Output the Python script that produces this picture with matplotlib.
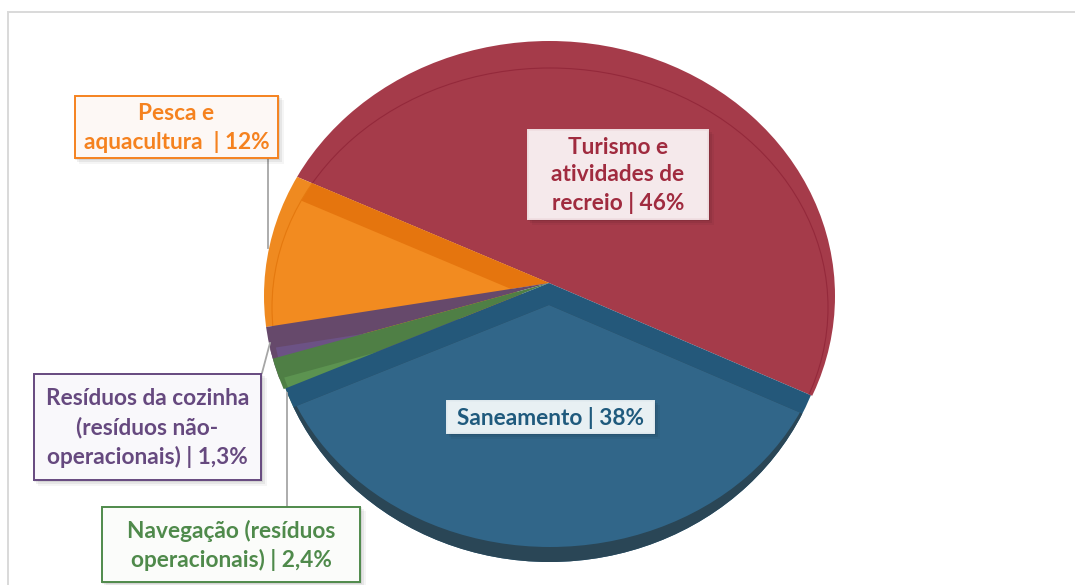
import matplotlib
matplotlib.use('Agg')
import matplotlib.pyplot as plt
from matplotlib.patches import Ellipse, Rectangle

W, H = 1075, 585

# slices counter-clockwise from the red/blue edge, sizes as drawn in the picture
names = ['Turismo', 'Pesca', 'Residuos', 'Navegacao', 'Saneamento']
slice_shares = [50.1, 8.8, 1.8, 1.8, 37.5]
start_angle = -23.2

face_colors = ['#a53b4a', '#f28b20', '#6c5285', '#5c9350', '#316689']
band_colors = ['#a53b4a', '#e5750e', '#66496b', '#4f7f45', '#24587a']
rim_colors = ['#a53b4a', '#ef8a20', '#66496b', '#4f7f45', '#2a4656']

labels = ['Turismo e\natividades de\nrecreio | 46%',
          'Pesca e\naquacultura  | 12%',
          'Resíduos da cozinha\n(resíduos não-\noperacionais) | 1,3%',
          'Navegação (resíduos\noperacionais) | 2,4%',
          'Saneamento | 38%']
# left, top, right, bottom of each box in pixels
boxes = [(528, 130, 708, 219), (75, 96, 278, 158), (34, 374, 261, 480),
         (102, 507, 360, 582), (447, 401, 654, 433)]
box_faces = ['#f5e9eb', '#fdf8f5', '#f9f8fb', '#fbfcfa', '#e8f0f3']
box_edges = ['#f0dfe2', '#f5821f', '#66497f', '#4f8a4b', '#e3ecf0']
text_colors = ['#a02b3f', '#f5821f', '#66497f', '#4f8a4b', '#1f5a7d']

leaders = [((268, 158), (268, 248)), ((262, 373), (270, 343)), ((287, 507), (287, 393))]


def py(y):
    return H - y


fig = plt.figure(figsize=(W / 100, H / 100), dpi=100)
ax = fig.add_axes([0, 0, 1, 1])

outer = Ellipse((549.5, py(296)), 571, 510, fc='none', ec='none')
inner = Ellipse((550, py(307.5)), 556, 479, fc='none', ec='none')
# the blue slice has a narrower, deeper outline than the rest
outer_blue = Ellipse((549.5, py(302)), 560, 520, fc='none', ec='none')
ax.add_patch(outer)
ax.add_patch(inner)
ax.add_patch(outer_blue)

apex = (549, py(283))
apex_low = (549, py(305))


def layer(center, colors, clip):
    wedges, _ = ax.pie(slice_shares, center=center, radius=800, startangle=start_angle,
                       colors=colors, wedgeprops={'linewidth': 0})
    for w in wedges:
        w.set_clip_path(clip)
        w.set_clip_on(True)
    return wedges


band = layer(apex, band_colors, outer)
rim = layer(apex_low, rim_colors, outer)
face = layer(apex_low, face_colors, inner)
band[4].set_clip_path(outer_blue)
rim[4].set_clip_path(outer_blue)
rim[3].set_clip_path(outer_blue)
# later slices sit on top of the lowered faces of earlier ones
for i in range(len(names)):
    band[i].set_zorder(2 + i * 3)
    rim[i].set_zorder(3 + i * 3)
    face[i].set_zorder(4 + i * 3)
# red has no lowered face, its band is the whole slice
rim[0].set_visible(False)
face[0].set_visible(False)
# orange: the light rim runs all round the slice, the dark band stops at the inner line
rim[1].set_center(apex)
rim[1].set_zorder(4.5)
band[1].set_zorder(5)
band[1].set_clip_path(inner)

for w, c in ((band[0], '#94293b'), (rim[1], '#e5790f')):
    line = Ellipse(inner.center, inner.width, inner.height, fc='none', ec=c, lw=0.8, zorder=18)
    ax.add_patch(line)
    line.set_clip_path(w)

for a, b in leaders:
    ax.plot([a[0], b[0]], [py(a[1]), py(b[1])], color='#a6a6a6', lw=1.3, zorder=20)

for i in range(len(labels)):
    l, t, r, b = boxes[i]
    for k, alpha in ((6, 0.04), (4, 0.06), (2, 0.08)):
        ax.add_patch(Rectangle((l + k - 2, py(b + k)), r - l + 2, b - t + 2, fc='black', ec='none',
                               alpha=alpha, zorder=21))
    ax.add_patch(Rectangle((l, py(b)), r - l, b - t, fc=box_faces[i], ec=box_edges[i], lw=1.4, zorder=22))
    ax.text((l + r) / 2, py((t + b) / 2 + 1), labels[i], color=text_colors[i], family='Lato', weight='bold',
            fontsize=16.3, ha='center', va='center', linespacing=1.4, zorder=23)

# chart frame, runs off the right and bottom of the crop
ax.add_patch(Rectangle((8, py(H + 20)), W + 20, H + 20 - 12, fc='none', ec='#d9d9d9', lw=1.4, zorder=1))

ax.set_aspect('auto')
ax.set_xlim(0, W)
ax.set_ylim(0, H)
ax.axis('off')
fig.savefig('out.png', dpi=100)
